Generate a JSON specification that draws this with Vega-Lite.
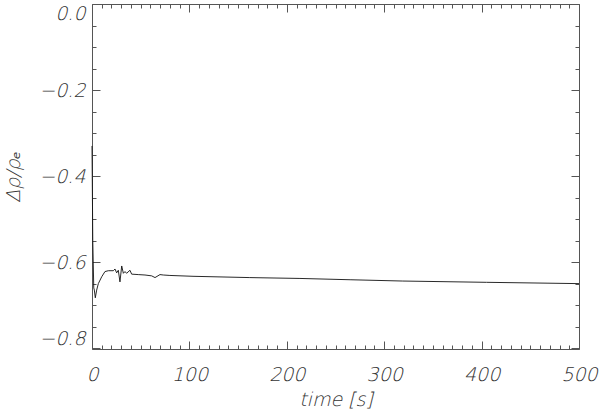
{
  "$schema": "https://vega.github.io/schema/vega-lite/v6.json",
  "width": 487,
  "height": 345,
  "autosize": "none",
  "padding": {"left": 92, "top": 4, "right": 21, "bottom": 61},
  "background": "white",
  "config": {
    "view": {"stroke": "#555", "strokeWidth": 1},
    "axis": {
      "labelFont": "DejaVu Sans ExtraLight, DejaVu Sans Light, DejaVu Sans",
      "labelFontStyle": "italic",
      "labelFontWeight": 200,
      "labelFontSize": 19,
      "labelColor": "#333",
      "titleFont": "DejaVu Sans ExtraLight, DejaVu Sans Light, DejaVu Sans",
      "titleFontStyle": "italic",
      "titleFontWeight": 200,
      "titleFontSize": 19,
      "titleColor": "#333",
      "tickColor": "#555",
      "tickWidth": 1,
      "domain": false,
      "grid": false,
      "labelOverlap": false,
      "labelFlush": false
    }
  },
  "data": {
    "values": [
      {"t": 0, "v": -0.33},
      {"t": 0.8, "v": -0.55},
      {"t": 1.8, "v": -0.66},
      {"t": 2.4, "v": -0.665},
      {"t": 3.4, "v": -0.683},
      {"t": 4.8, "v": -0.665},
      {"t": 6.5, "v": -0.65},
      {"t": 10, "v": -0.634},
      {"t": 13.3, "v": -0.622},
      {"t": 16.8, "v": -0.62},
      {"t": 21.9, "v": -0.62},
      {"t": 23.6, "v": -0.616},
      {"t": 25.3, "v": -0.625},
      {"t": 27, "v": -0.619},
      {"t": 28.7, "v": -0.646},
      {"t": 30.5, "v": -0.609},
      {"t": 32.2, "v": -0.626},
      {"t": 33.9, "v": -0.622},
      {"t": 35.5, "v": -0.626},
      {"t": 39, "v": -0.619},
      {"t": 40.7, "v": -0.628},
      {"t": 47.5, "v": -0.629},
      {"t": 54.4, "v": -0.63},
      {"t": 61.3, "v": -0.632},
      {"t": 64.7, "v": -0.636},
      {"t": 69.8, "v": -0.629},
      {"t": 73.2, "v": -0.63},
      {"t": 80, "v": -0.631},
      {"t": 103.7, "v": -0.633},
      {"t": 162, "v": -0.636},
      {"t": 213.5, "v": -0.638},
      {"t": 265, "v": -0.641},
      {"t": 319, "v": -0.644},
      {"t": 405, "v": -0.647},
      {"t": 500, "v": -0.65}
    ]
  },
  "layer": [
    {
      "mark": {"type": "line", "color": "#111", "strokeWidth": 0.9, "interpolate": "linear"},
      "encoding": {
        "x": {
          "field": "t", "type": "quantitative",
          "scale": {"domain": [0, 500], "nice": false, "zero": false},
          "axis": {
            "orient": "bottom",
            "title": "time [s]",
            "values": [0,10,20,30,40,50,60,70,80,90,100,110,120,130,140,150,160,170,180,190,200,210,220,230,240,250,260,270,280,290,300,310,320,330,340,350,360,370,380,390,400,410,420,430,440,450,460,470,480,490,500],
            "labelExpr": "datum.value % 100 === 0 ? datum.label : ''",
            "tickSize": {"condition": {"test": "datum.value % 100 === 0", "value": -8}, "value": -4},
            "labelPadding": 24,
            "titlePadding": 2
          }
        },
        "y": {
          "field": "v", "type": "quantitative",
          "scale": {"domain": [-0.802, 0], "nice": false, "zero": false},
          "axis": {
            "orient": "left",
            "title": "Δρ/ρₑ",
            "values": [-0.8,-0.75,-0.7,-0.65,-0.6,-0.55,-0.5,-0.45,-0.4,-0.35,-0.3,-0.25,-0.2,-0.15,-0.1,-0.05,0],
            "labelExpr": "abs(datum.value*5 - round(datum.value*5)) < 1e-6 ? format(datum.value, '.1f') : ''",
            "tickSize": {"condition": {"test": "abs(datum.value*5 - round(datum.value*5)) < 1e-6", "value": -8}, "value": -4},
            "labelFlush": true,
            "labelPadding": 15,
            "titlePadding": 15
          }
        }
      }
    },
    {
      "mark": {"type": "line", "opacity": 0},
      "encoding": {
        "x": {
          "field": "t", "type": "quantitative",
          "scale": {"domain": [0, 500], "nice": false, "zero": false},
          "axis": {
            "orient": "top",
            "title": null,
            "labels": false,
            "values": [0,10,20,30,40,50,60,70,80,90,100,110,120,130,140,150,160,170,180,190,200,210,220,230,240,250,260,270,280,290,300,310,320,330,340,350,360,370,380,390,400,410,420,430,440,450,460,470,480,490,500],
            "tickSize": {"condition": {"test": "datum.value % 100 === 0", "value": -8}, "value": -4}
          }
        },
        "y": {
          "field": "v", "type": "quantitative",
          "scale": {"domain": [-0.802, 0], "nice": false, "zero": false},
          "axis": {
            "orient": "right",
            "title": null,
            "labels": false,
            "values": [-0.8,-0.75,-0.7,-0.65,-0.6,-0.55,-0.5,-0.45,-0.4,-0.35,-0.3,-0.25,-0.2,-0.15,-0.1,-0.05,0],
            "tickSize": {"condition": {"test": "abs(datum.value*5 - round(datum.value*5)) < 1e-6", "value": -8}, "value": -4}
          }
        }
      }
    }
  ]
}
